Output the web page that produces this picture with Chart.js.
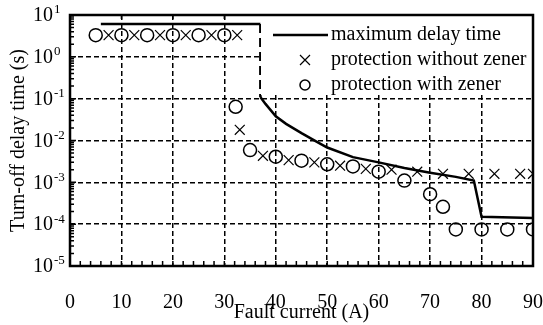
<!DOCTYPE html>
<html>
<head>
<meta charset="utf-8">
<script src="https://cdn.jsdelivr.net/npm/chart.js@4.4.1/dist/chart.umd.min.js"></script>
<style>
  html, body { margin: 0; padding: 0; background: #fff; }
</style>
</head>
<body>
<canvas id="delay-chart" width="543" height="325"></canvas>
<script>
// maximum delay time curve (A, s); points 1-2 are the dashed vertical step
var maxCurrent = [6, 37, 37, 38, 40, 42, 45, 48, 50, 55, 60, 65, 70, 75, 78.5, 80, 90];
var maxDelay   = [6.1, 6.1, 0.11, 0.075, 0.038, 0.025, 0.015, 0.0093, 0.0068, 0.004, 0.003, 0.0022, 0.0017, 0.00135, 0.0011, 0.00015, 0.00014];

// protection without zener (crosses)
var noZenerCurrent = [7.5, 12.5, 17.5, 22.5, 27.5, 32.5, 33, 37.5, 42.5, 47.5, 52.5, 57.5, 62.5, 67.5, 72.5, 77.5, 82.5, 87.5, 90];
var noZenerDelay   = [3.3, 3.3, 3.3, 3.3, 3.3, 3.3, 0.018, 0.0043, 0.0034, 0.003, 0.0025, 0.0021, 0.002, 0.0018, 0.0016, 0.0016, 0.0016, 0.0016, 0.0016];

// protection with zener (circles)
var zenerCurrent = [5, 10, 15, 20, 25, 30, 32.2, 35, 40, 45, 50, 55, 60, 65, 70, 72.5, 75, 80, 85, 90];
var zenerDelay   = [3.3, 3.3, 3.3, 3.3, 3.3, 3.3, 0.064, 0.0059, 0.0041, 0.0033, 0.0027, 0.0024, 0.0018, 0.0011, 0.00052, 0.00026, 0.000075, 0.000075, 0.000075, 0.000075];

var legendLabels = ['maximum delay time', 'protection without zener', 'protection with zener'];
var yTickExps = [-5, -4, -3, -2, -1, 0, 1];
var xTicks = [0, 10, 20, 30, 40, 50, 60, 70, 80, 90];

function toPoints(xs, ys, from, to) {
    var pts = [];
    for (var i = from || 0; i < (to === undefined ? xs.length : to); i++) pts.push({x: xs[i], y: ys[i]});
    return pts;
}

var serif = '"Liberation Serif", "Times New Roman", serif';

var decorPlugin = {
    id: 'decor',
    afterDraw: function(chart) {
        var ctx = chart.ctx, a = chart.chartArea;
        var xs = chart.scales.x, ys = chart.scales.y;
        ctx.save();
        ctx.strokeStyle = '#000';
        ctx.fillStyle = '#000';

        // inward ticks
        ctx.lineWidth = 1.5;
        ctx.beginPath();
        for (var v = 0; v <= 90; v += 2) {
            var px = xs.getPixelForValue(v);
            ctx.moveTo(px, a.bottom);
            ctx.lineTo(px, a.bottom - 5);
        }
        xTicks.forEach(function(t) {
            var px = xs.getPixelForValue(t);
            ctx.moveTo(px, a.top);
            ctx.lineTo(px, a.top + 4);
        });
        for (var e = -5; e < 1; e++) {
            for (var k = 1; k < 10; k++) {
                var py = ys.getPixelForValue(k * Math.pow(10, e));
                ctx.moveTo(a.left, py);
                ctx.lineTo(a.left + (k === 1 ? 6 : 4), py);
            }
        }
        ctx.stroke();

        // legend
        ctx.fillStyle = '#fff';
        ctx.fillRect(261, 16, a.right - 262, 79);
        ctx.fillStyle = '#000';
        ctx.lineWidth = 2.5;
        ctx.beginPath();
        ctx.moveTo(273, 35);
        ctx.lineTo(328, 35);
        ctx.stroke();
        ctx.lineWidth = 1.2;
        ctx.beginPath();
        ctx.moveTo(300, 55); ctx.lineTo(310, 65);
        ctx.moveTo(310, 55); ctx.lineTo(300, 65);
        ctx.stroke();
        ctx.lineWidth = 1.5;
        ctx.beginPath();
        ctx.arc(305, 85, 5, 0, Math.PI * 2);
        ctx.stroke();
        ctx.font = '20px ' + serif;
        ctx.textAlign = 'left';
        ctx.textBaseline = 'alphabetic';
        legendLabels.forEach(function(txt, i) {
            ctx.fillText(txt, 331, 39.5 + 25 * i);
        });

        // plot frame
        ctx.lineWidth = 2.5;
        ctx.strokeRect(a.left, a.top, a.right - a.left, a.bottom - a.top);

        // y tick labels 10^n
        ctx.textBaseline = 'middle';
        yTickExps.forEach(function(n) {
            var py = ys.getPixelForValue(Math.pow(10, n));
            ctx.font = '20px ' + serif;
            ctx.fillText('10', 33, py + 1);
            ctx.font = '13px ' + serif;
            ctx.fillText(String(n), 54, py - 5);
        });
        ctx.restore();
    }
};

var lineStyle = {
    showLine: true,
    borderColor: '#000',
    borderWidth: 2.5,
    pointRadius: 0,
    tension: 0
};

var ctx = document.getElementById('delay-chart').getContext('2d');
var delayChart = new Chart(ctx, {
    type: 'scatter',
    data: {
        datasets: [
            Object.assign({label: legendLabels[0], data: toPoints(maxCurrent, maxDelay, 0, 2)}, lineStyle),
            Object.assign({label: legendLabels[0], data: toPoints(maxCurrent, maxDelay, 1, 3), borderDash: [9, 5]}, lineStyle),
            Object.assign({label: legendLabels[0], data: toPoints(maxCurrent, maxDelay, 2)}, lineStyle),
        {
            label: legendLabels[1],
            data: toPoints(noZenerCurrent, noZenerDelay),
            pointStyle: 'crossRot',
            pointRadius: 7,
            borderColor: '#000',
            borderWidth: 1.2,
            showLine: false
        }, {
            label: legendLabels[2],
            data: toPoints(zenerCurrent, zenerDelay),
            pointStyle: 'circle',
            pointRadius: 6.5,
            borderColor: '#000',
            backgroundColor: 'rgba(0,0,0,0)',
            borderWidth: 1.5,
            showLine: false
        }]
    },
    options: {
        responsive: false,
        animation: false,
        layout: { padding: { top: 15, right: 10, left: 0, bottom: 0 } },
        plugins: {
            legend: { display: false },
            tooltip: { enabled: false }
        },
        scales: {
            x: {
                type: 'linear',
                min: 0,
                max: 90,
                afterFit: function(s) { s.height = 59; s.paddingLeft = 0; s.paddingRight = 0; },
                ticks: {
                    stepSize: 10,
                    color: '#000',
                    padding: 25,
                    font: { family: serif, size: 20 }
                },
                grid: { color: '#000', lineWidth: 1.5, drawTicks: false },
                border: { display: false, dash: [5, 3] },
                title: {
                    display: true,
                    text: 'Fault current (A)',
                    color: '#000',
                    font: { family: serif, size: 20 },
                    padding: { top: 0, bottom: 0 }
                }
            },
            y: {
                type: 'logarithmic',
                min: 1e-5,
                max: 10,
                afterFit: function(s) { s.width = 70; s.paddingTop = 0; s.paddingBottom = 0; },
                afterBuildTicks: function(s) {
                    s.ticks = yTickExps.map(function(n) { return {value: Math.pow(10, n)}; });
                },
                ticks: { display: false },
                grid: { color: '#000', lineWidth: 1.5, drawTicks: false },
                border: { display: false, dash: [5, 3] },
                title: {
                    display: true,
                    text: 'Turn-off delay time (s)',
                    color: '#000',
                    font: { family: serif, size: 20 },
                    padding: { top: 7, bottom: 0 }
                }
            }
        }
    },
    plugins: [decorPlugin]
});
</script>
</body>
</html>
